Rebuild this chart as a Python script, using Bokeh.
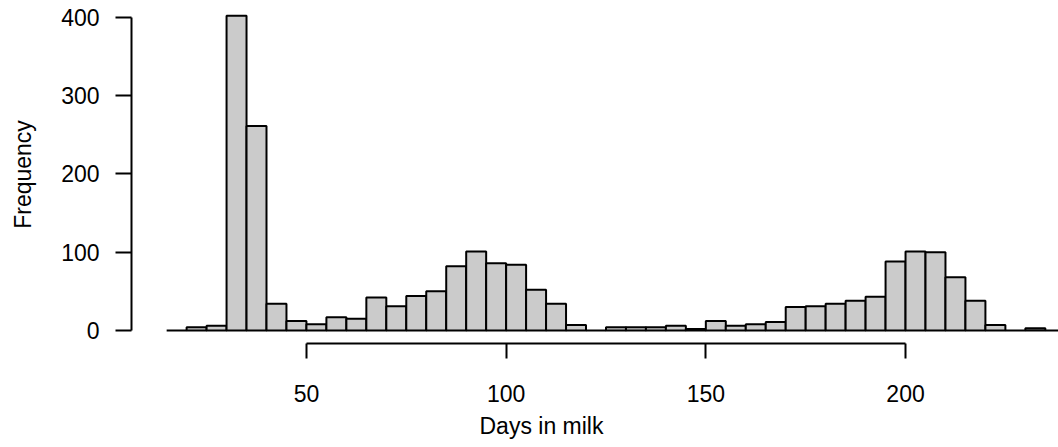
from bokeh.plotting import figure
from bokeh.models import Range1d, FixedTicker, ColumnDataSource, Title
from bokeh.embed import file_html
from bokeh.resources import INLINE

# Histogram of days in milk (bin width 5 days)
bin_left = [15, 20, 25, 30, 35, 40, 45, 50, 55, 60,
            65, 70, 75, 80, 85, 90, 95, 100, 105, 110,
            115, 120, 125, 130, 135, 140, 145, 150, 155, 160,
            165, 170, 175, 180, 185, 190, 195, 200, 205, 210,
            215, 220, 225, 230, 235]
bin_width = 5
counts = [0, 4, 6, 402, 261, 34, 12, 8, 17, 15,
          42, 31, 44, 50, 82, 101, 86, 84, 52, 34,
          7, 0, 4, 4, 4, 6, 2, 12, 6, 8,
          11, 30, 31, 34, 38, 43, 88, 101, 100, 68,
          38, 7, 0, 3, 0]
x_ticks = [50, 100, 150, 200]
y_ticks = [0, 100, 200, 300, 400]

src = ColumnDataSource(dict(
    left=bin_left,
    right=[b + bin_width for b in bin_left],
    top=counts,
    bottom=[0] * len(counts),
))

FONT = "Liberation Sans"

p = figure(width=1058, height=447, output_backend="svg", toolbar_location=None,
           x_range=Range1d(6.2, 238.3), y_range=Range1d(-16.6, 415),
           min_border_left=131, min_border_right=0, min_border_top=5,
           min_border_bottom=104)
p.background_fill_color = "white"
p.border_fill_color = "white"
p.outline_line_color = None
p.grid.visible = False

# zero-count bins draw as flat outlines on the baseline
p.quad(left="left", right="right", top="top", bottom="bottom", source=src,
       fill_color="#cbcbcb", line_color="black", line_width=2)

for ax in (p.xaxis[0], p.yaxis[0]):
    ax.axis_line_color = "black"
    ax.axis_line_width = 2
    ax.major_tick_line_color = "black"
    ax.major_tick_line_width = 2
    ax.major_tick_in = 0
    ax.minor_tick_line_color = None
    ax.major_label_text_font = FONT
    ax.major_label_text_font_size = "23px"
    ax.major_label_text_color = "black"
    ax.axis_label_text_font = FONT
    ax.axis_label_text_font_size = "23px"
    ax.axis_label_text_font_style = "normal"
    ax.axis_label_text_color = "black"

xa = p.xaxis[0]
xa.ticker = FixedTicker(ticks=x_ticks)
xa.bounds = (50, 200)
xa.major_tick_out = 15
xa.major_label_standoff = 26

ya = p.yaxis[0]
ya.ticker = FixedTicker(ticks=y_ticks)
ya.bounds = (0, 400)
ya.major_tick_out = 16
ya.major_label_standoff = 16
ya.major_label_orientation = "horizontal"
ya.axis_label = "Frequency"
ya.axis_label_standoff = 22

xtitle = Title(text="Days in milk", align="left", offset=348,
               text_font=FONT, text_font_size="23px", text_font_style="normal",
               text_color="black", standoff=13)
p.add_layout(xtitle, "below")

open("out.html", "w").write(file_html(p, INLINE))
